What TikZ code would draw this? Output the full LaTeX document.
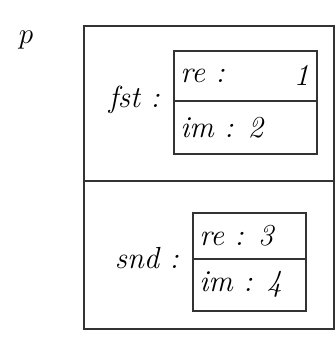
\documentclass[tikz,border=0pt]{standalone}
\usepackage{tikz}
\usetikzlibrary{positioning}
\tikzset{
  cell/.style={rectangle, draw=black!80, line width=1.3pt, inner sep=0pt, anchor=north west},
  field/.style={cell, minimum width=#1},
  lbl/.style={font=\fontsize{26}{30}\selectfont\itshape, inner sep=1pt},
}

\begin{document}
\begin{tikzpicture}[x=0.03cm, y=-0.03cm]
    \useasboundingbox (0,0) rectangle (334,338);
    % outer record with two slots
    \node[cell, minimum width=250*0.03cm, minimum height=155*0.03cm] (fstcell) at (83,25) {};
    \node[cell, minimum width=250*0.03cm, minimum height=148*0.03cm] (sndcell) at (83,180) {};
    % first pair
    \node[field=143*0.03cm, minimum height=50*0.03cm] (re1) at (173,50) {};
    \node[field=143*0.03cm, minimum height=53*0.03cm] (im1) at (173,100) {};
    % second pair
    \node[field=113*0.03cm, minimum height=46*0.03cm] (re2) at (192,212) {};
    \node[field=113*0.03cm, minimum height=52*0.03cm] (im2) at (192,258) {};
    % texts
    \node[lbl, font=\fontsize{36}{40}\selectfont\itshape] (p) at (26,40) {$p$};
    \node[lbl, left=10pt of im1.north west] (fst) {fst :};
    \node[lbl, left=10pt of im2.north west] (snd) {snd :};
    \node[lbl, anchor=west] at ([xshift=5pt]re1.west) {re :};
    \node[lbl, anchor=east] at ([xshift=-6pt]re1.east) {1};
    \node[lbl, anchor=west] at ([xshift=5pt]im1.west) {im : 2};
    \node[lbl, anchor=west] at ([xshift=5pt]re2.west) {re : 3};
    \node[lbl, anchor=west] at ([xshift=5pt]im2.west) {im : 4};
  \end{tikzpicture}
\end{document}
